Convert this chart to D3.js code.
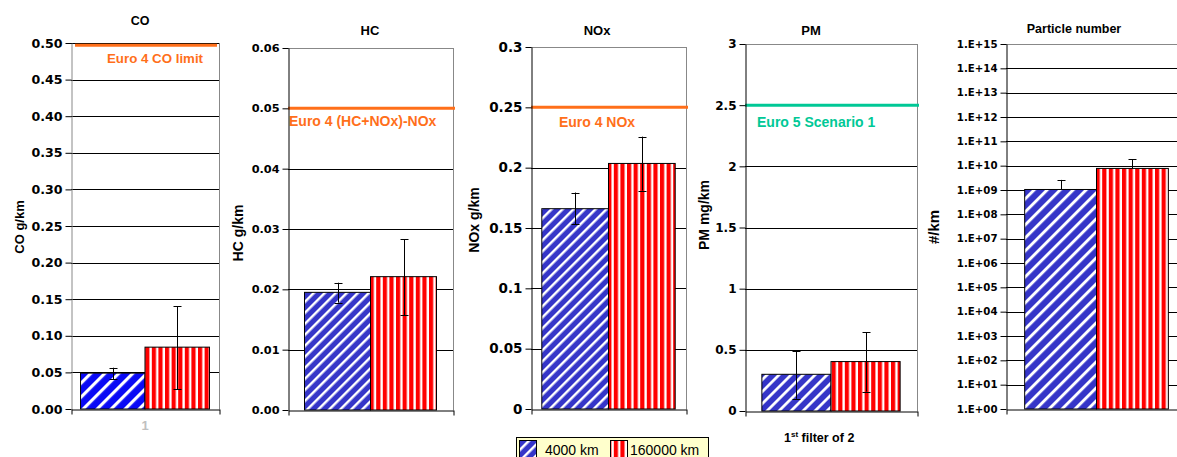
<!DOCTYPE html>
<html>
<head>
<meta charset="utf-8">
<script src="https://cdn.jsdelivr.net/npm/d3@7"></script>
<style>
  body { margin: 0; background: #fff; }
  svg { display: block; }
  .tick text { font-family: "DejaVu Sans", sans-serif; font-weight: bold; fill: #000; }
</style>
</head>
<body>
<div id="chart"></div>
<script>
// data
const categories = ["1"];
const series = ["4000 km", "160000 km"];
const pollutants = ["CO", "HC", "NOx", "PM", "Particle number"];
const unitLabels = ["CO g/km", "HC g/km", "NOx g/km", "PM mg/km", "#/km"];
const values4000 = [0.049, 0.0195, 0.166, 0.30, 1.05e9];
const values160000 = [0.0845, 0.0221, 0.2035, 0.404, 7.7e9];
const errLow4000 = [0.041, 0.0178, 0.153, 0.10, null];
const errHigh4000 = [0.0564, 0.0211, 0.1794, 0.494, 2.6e9];
const errLow160000 = [0.027, 0.0157, 0.181, 0.159, null];
const errHigh160000 = [0.1407, 0.0283, 0.2257, 0.642, 1.87e10];
const limitValues = [0.497, 0.05, 0.25, 2.5, null];
const limitLabels = ["Euro 4 CO limit", "Euro 4 (HC+NOx)-NOx", "Euro 4 NOx", "Euro 5 Scenario 1", null];
const coTicks = [0, 0.05, 0.10, 0.15, 0.20, 0.25, 0.30, 0.35, 0.40, 0.45, 0.50];
const hcTicks = [0, 0.01, 0.02, 0.03, 0.04, 0.05, 0.06];
const noxTicks = [0, 0.05, 0.1, 0.15, 0.2, 0.25, 0.3];
const pmTicks = [0, 0.5, 1, 1.5, 2, 2.5, 3];
const pnTicks = d3.range(0, 16).map(e => Math.pow(10, e));
const tickSets = [coTicks, hcTicks, noxTicks, pmTicks, pnTicks];

// layout of each small chart (pixels)
const layout = [
  {x0: 71, x1: 219, top: 43, bottom: 409, pad: 0.074, tickFont: 12.6, titleX: 140, titleY: 25, titleSize: 12.5,
   labelX: 19, labelY: 227, labelSize: 13, blue: "#0a0af5", stripe: 14, limitColor: "#ff6f1a", limitX: 107, limitAnchor: "start", limitDy: 18, limitSize: 13.3, axisColor: "#888"},
  {x0: 288, x1: 453, top: 48, bottom: 410, pad: 0.125, tickFont: 11.3, titleX: 370, titleY: 35, titleSize: 13,
   labelX: 238, labelY: 233, labelSize: 14, blue: "#3535c8", stripe: 11, limitColor: "#ff6f1a", limitX: 289, limitAnchor: "start", limitDy: 18, limitSize: 14, axisColor: "#000"},
  {x0: 531, x1: 686, top: 47, bottom: 409, pad: 0.081, tickFont: 13.5, titleX: 597, titleY: 35, titleSize: 13,
   labelX: 474, labelY: 220, labelSize: 14, blue: "#3535c8", stripe: 11, limitColor: "#ff6f1a", limitX: 597, limitAnchor: "middle", limitDy: 20, limitSize: 14, axisColor: "#000"},
  {x0: 745, x1: 917, top: 44, bottom: 411, pad: 0.122, tickFont: 12, titleX: 811, titleY: 35, titleSize: 13,
   labelX: 704, labelY: 215, labelSize: 14, blue: "#3535c8", stripe: 12, limitColor: "#00c896", limitX: 757, limitAnchor: "start", limitDy: 22, limitSize: 14, axisColor: "#000"},
  {x0: 1006, x1: 1187, top: 44, bottom: 409, pad: 0.13, tickFont: 10.2, titleX: 1074, titleY: 33, titleSize: 12.5,
   labelX: 934, labelY: 227, labelSize: 15, blue: "#3535c8", stripe: 13, limitColor: null, axisColor: "#000"}
];

const w = 1177;
const h = 457;

const svg = d3.select("#chart")
  .append("svg")
  .attr("width", w)
  .attr("height", h);

const defs = svg.append("defs");

// red vertical stripes, shared by all panels
const redPat = defs.append("pattern")
  .attr("id", "redStripes")
  .attr("patternUnits", "userSpaceOnUse")
  .attr("width", 6.6)
  .attr("height", 10);
redPat.append("rect").attr("width", 6.6).attr("height", 10).attr("fill", "#ff0000");
redPat.append("rect").attr("x", 4.2).attr("width", 2.4).attr("height", 10).attr("fill", "#fff");

pollutants.forEach((name, i) => {
  const L = layout[i];
  const isLog = i === 4;

  // blue diagonal stripes, size differs a little per panel
  const p = L.stripe / Math.SQRT2;
  const bluePat = defs.append("pattern")
    .attr("id", "blueStripes" + i)
    .attr("patternUnits", "userSpaceOnUse")
    .attr("width", p)
    .attr("height", p)
    .attr("patternTransform", "rotate(45)");
  bluePat.append("rect").attr("width", p).attr("height", p).attr("fill", L.blue);
  bluePat.append("rect").attr("width", p * 0.32).attr("height", p).attr("fill", "#fff");

  const ticks = tickSets[i];
  const yScale = isLog
    ? d3.scaleLog().domain([1, 1e15]).range([L.bottom, L.top])
    : d3.scaleLinear().domain([0, ticks[ticks.length - 1]]).range([L.bottom, L.top]);

  const xScale = d3.scaleBand()
    .domain(categories)
    .range([L.x0, L.x1])
    .paddingOuter(L.pad)
    .paddingInner(0);

  const xInner = d3.scaleBand()
    .domain(series)
    .range([0, xScale.bandwidth()]);

  const g = svg.append("g");

  // gridlines (top one is the grey plot border)
  g.selectAll(".grid")
    .data(ticks.slice(1))
    .enter()
    .append("line")
    .attr("x1", L.x0)
    .attr("x2", L.x1)
    .attr("y1", d => Math.round(yScale(d)) + 0.5)
    .attr("y2", d => Math.round(yScale(d)) + 0.5)
    .attr("stroke", (d, j) => (j === ticks.length - 2 && i !== 0) ? "#888" : "#000")
    .attr("stroke-width", 1);

  // right border
  g.append("line")
    .attr("x1", L.x1 + 0.5).attr("x2", L.x1 + 0.5)
    .attr("y1", L.top).attr("y2", L.bottom)
    .attr("stroke", "#888");

  // bars
  const vals = [values4000[i], values160000[i]];
  const lows = [errLow4000[i], errLow160000[i]];
  const highs = [errHigh4000[i], errHigh160000[i]];
  const fills = ["url(#blueStripes" + i + ")", "url(#redStripes)"];
  const base = isLog ? yScale(1) : yScale(0);

  const barData = series.map((s, k) => ({s: s, v: vals[k], lo: lows[k], hi: highs[k], fill: fills[k]}));

  g.selectAll(".bar")
    .data(barData)
    .enter()
    .append("rect")
    .attr("x", d => xScale("1") + xInner(d.s))
    .attr("y", d => yScale(d.v))
    .attr("width", xInner.bandwidth())
    .attr("height", d => base - yScale(d.v))
    .attr("fill", d => d.fill)
    .attr("stroke", "#000")
    .attr("stroke-width", 1);

  // error bars
  const cx = d => Math.round(xScale("1") + xInner(d.s) + xInner.bandwidth() / 2) + 0.5;
  const errG = g.selectAll(".err")
    .data(barData)
    .enter()
    .append("g");
  errG.append("line")
    .attr("x1", cx).attr("x2", cx)
    .attr("y1", d => yScale(d.hi))
    .attr("y2", d => d.lo === null ? yScale(d.v) : yScale(d.lo))
    .attr("stroke", "#000");
  errG.append("line")
    .attr("x1", d => cx(d) - 4).attr("x2", d => cx(d) + 4)
    .attr("y1", d => Math.round(yScale(d.hi)) + 0.5)
    .attr("y2", d => Math.round(yScale(d.hi)) + 0.5)
    .attr("stroke", "#000");
  errG.filter(d => d.lo !== null).append("line")
    .attr("x1", d => cx(d) - 4).attr("x2", d => cx(d) + 4)
    .attr("y1", d => Math.round(yScale(d.lo)) + 0.5)
    .attr("y2", d => Math.round(yScale(d.lo)) + 0.5)
    .attr("stroke", "#000");

  // limit line and its label
  if (limitValues[i] !== null) {
    g.append("line")
      .attr("x1", L.x0 + (i === 0 ? 4 : 0))
      .attr("x2", L.x1 + (i === 0 ? -2 : 2))
      .attr("y1", yScale(limitValues[i]))
      .attr("y2", yScale(limitValues[i]))
      .attr("stroke", L.limitColor)
      .attr("stroke-width", 3);
    g.append("text")
      .attr("x", L.limitX)
      .attr("y", yScale(limitValues[i]) + L.limitDy)
      .attr("text-anchor", L.limitAnchor)
      .attr("font-family", "'Liberation Sans', Arial, sans-serif")
      .attr("font-weight", "bold")
      .attr("font-size", L.limitSize)
      .attr("fill", L.limitColor)
      .text(limitLabels[i]);
  }

  // y axis
  const fmt = [d3.format(".2f"), d3.format(".2f"), d => String(d), d => String(d),
    d => "1.E+" + String(Math.round(Math.log10(d))).padStart(2, "0")][i];
  const yAxisG = g.append("g")
    .attr("transform", `translate(${L.x0 + 0.5},0)`)
    .call(d3.axisLeft(yScale).tickValues(ticks).tickFormat(fmt).tickSize(6).tickSizeOuter(0).tickPadding(3));
  yAxisG.selectAll(".tick line").attr("stroke", "#000");
  yAxisG.select(".domain").attr("stroke", L.axisColor);
  yAxisG.selectAll(".tick text").style("font-size", L.tickFont + "px");

  // x axis: baseline with end ticks
  const xEnds = d3.scaleLinear().domain([0, 1]).range([L.x0, L.x1]);
  const xAxisG = g.append("g")
    .attr("transform", `translate(0.5,${Math.round(base) + 0.5})`)
    .call(d3.axisBottom(xEnds).tickValues([0, 1]).tickFormat("").tickSize(5).tickSizeOuter(0));
  xAxisG.selectAll("line, path").attr("stroke", "#000");

  // title
  g.append("text")
    .attr("x", L.titleX)
    .attr("y", L.titleY)
    .attr("text-anchor", "middle")
    .attr("font-family", "'Liberation Sans', Arial, sans-serif")
    .attr("font-weight", "bold")
    .attr("font-size", L.titleSize)
    .text(name);

  // y axis label
  g.append("text")
    .attr("transform", `translate(${L.labelX},${L.labelY}) rotate(-90)`)
    .attr("text-anchor", "middle")
    .attr("dy", "0.35em")
    .attr("font-family", "'Liberation Sans', Arial, sans-serif")
    .attr("font-weight", "bold")
    .attr("font-size", L.labelSize)
    .text(unitLabels[i]);

  // category label only shown on the first panel
  if (i === 0) {
    g.append("text")
      .attr("x", xScale("1") + xScale.bandwidth() / 2)
      .attr("y", 430)
      .attr("text-anchor", "middle")
      .attr("font-family", "'Liberation Sans', Arial, sans-serif")
      .attr("font-weight", "bold")
      .attr("font-size", 13)
      .attr("fill", "#c0c0c0")
      .text(categories[0]);
  }
});

// note under PM panel
const note = svg.append("text")
  .attr("x", 784)
  .attr("y", 442)
  .attr("font-family", "'Liberation Sans', Arial, sans-serif")
  .attr("font-weight", "bold")
  .attr("font-size", 12.5);
note.append("tspan").text("1");
note.append("tspan").attr("dy", -5).attr("font-size", 8).text("st");
note.append("tspan").attr("dy", 5).text(" filter of 2");

// legend
const legend = svg.append("g");
legend.append("rect")
  .attr("x", 516.5).attr("y", 437.5)
  .attr("width", 192).attr("height", 30)
  .attr("fill", "#ffffcc")
  .attr("stroke", "#000");
const legendX = [519, 610];
const legendFills = ["url(#blueStripes1)", "url(#redStripes)"];
series.forEach((s, k) => {
  legend.append("rect")
    .attr("x", legendX[k] + 0.5).attr("y", 440.5)
    .attr("width", 17).attr("height", 20)
    .attr("fill", legendFills[k])
    .attr("stroke", "#000");
  legend.append("text")
    .attr("x", legendX[k] + (k === 0 ? 26 : 20))
    .attr("y", 455)
    .attr("font-family", "'Liberation Sans', Arial, sans-serif")
    .attr("font-size", 14)
    .text(s);
});
</script>
</body>
</html>
